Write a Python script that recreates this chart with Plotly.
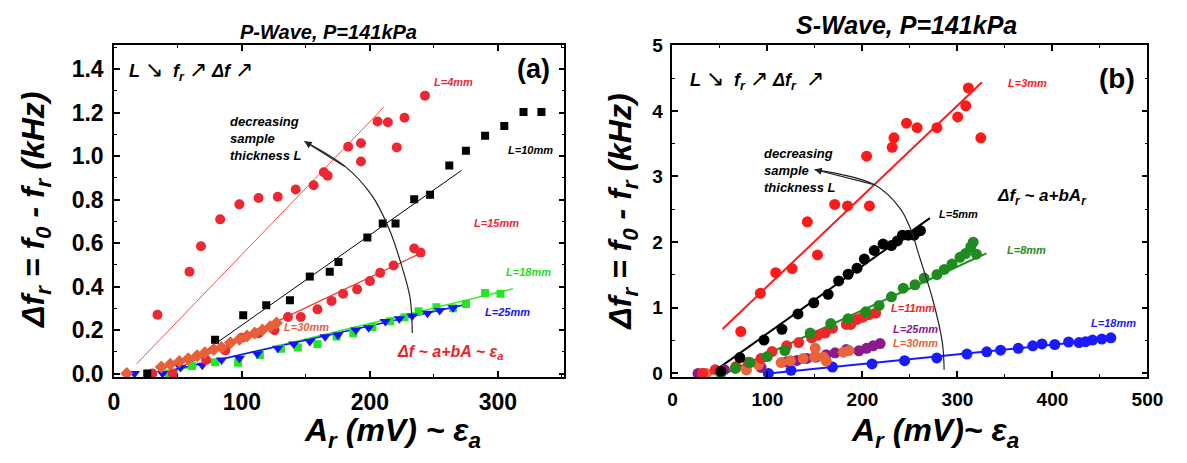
import plotly.graph_objects as go

FONT = "Arial, 'Liberation Sans', sans-serif"

# ---------------- Panel (a): P-Wave ----------------
a_L4_x = [34, 59, 68, 83, 98, 113, 128, 142, 156, 164, 167, 183, 193, 193, 206, 214, 221, 227, 243]
a_L4_y = [0.27, 0.468, 0.585, 0.709, 0.778, 0.807, 0.813, 0.846, 0.866, 0.926, 0.910, 1.043, 1.059, 0.975, 1.159, 1.156, 1.040, 1.176, 1.278]

a_L10_x = [26, 79, 101, 119, 137.5, 153, 168.6, 175.4, 198, 210, 220, 234.6, 247, 262, 275, 290, 305, 320, 334]
a_L10_y = [0.0, 0.155, 0.268, 0.314, 0.337, 0.446, 0.468, 0.513, 0.626, 0.69, 0.69, 0.801, 0.822, 0.957, 1.025, 1.093, 1.138, 1.203, 1.203]

a_L15_x = [30, 46, 72, 87, 100, 113, 125.5, 136, 146, 159, 170, 179, 190, 200, 208, 218.5, 234.6, 239.6]
a_L15_y = [0.0, 0.0, 0.062, 0.106, 0.165, 0.185, 0.199, 0.26, 0.26, 0.295, 0.334, 0.367, 0.387, 0.425, 0.463, 0.497, 0.575, 0.556]

a_L30_x = [10, 37, 44, 51, 58, 65, 71, 78, 84, 91, 98, 104, 110, 116, 122, 127]
a_L30_y = [0.0, 0.03, 0.043, 0.055, 0.068, 0.082, 0.095, 0.11, 0.12, 0.142, 0.158, 0.172, 0.186, 0.2, 0.215, 0.232]

a_L18_x = [43, 61, 79, 97, 114, 130.5, 143.7, 159, 174, 187, 202, 215.8, 227, 238, 252, 265, 275, 290, 302]
a_L18_y = [0.0, 0.035, 0.052, 0.05, 0.085, 0.114, 0.12, 0.135, 0.17, 0.185, 0.214, 0.24, 0.258, 0.286, 0.305, 0.3, 0.32, 0.37, 0.367]

a_L25_x = [16, 38, 52, 69, 84, 98, 112, 128, 140.5, 153, 165, 175, 189, 199, 212, 223, 233, 245, 254.5, 265]
a_L25_y = [0.0, 0.0, 0.028, 0.038, 0.062, 0.07, 0.091, 0.116, 0.136, 0.147, 0.169, 0.177, 0.2, 0.21, 0.239, 0.252, 0.264, 0.277, 0.29, 0.302]

# linear fits: intercept a, slope b, x start, x end
a_fit_L4 = [-0.0636, 0.00611, 17.6, 210.9]
a_fit_L10 = [-0.1915, 0.004144, 53.7, 271.6]
a_fit_L15 = [-0.1155, 0.00279, 45.0, 242.0]
a_fit_L18 = [-0.0558, 0.00143, 39.0, 311.7]
a_fit_L25 = [-0.0431, 0.001313, 42.0, 276.5]

a_arc_x = [148.8, 181.5, 201.9, 214.7, 224.9, 231.4, 233.1]
a_arc_y = [1.068, 0.948, 0.816, 0.669, 0.494, 0.347, 0.186]

# ---------------- Panel (b): S-Wave ----------------
b_L3_x = [72, 92.5, 108.7, 126, 142, 152.7, 170.8, 184.3, 204.4, 207.4, 231.3, 233.2, 246.4, 257.6, 278.4, 300.3, 308.8, 311.5, 324.6]
b_L3_y = [0.639, 1.22, 1.535, 1.598, 2.309, 1.806, 2.575, 2.551, 3.309, 2.551, 3.444, 3.589, 3.812, 3.744, 3.744, 3.908, 4.077, 4.348, 3.589]

b_L5_x = [51, 71, 96.4, 115.3, 132.2, 148.8, 163.9, 175, 185, 194.3, 202, 212.5, 221.7, 230.5, 236.8, 242.1, 248.3, 254.5, 261]
b_L5_y = [0.034, 0.242, 0.508, 0.673, 0.906, 1.075, 1.206, 1.409, 1.511, 1.603, 1.743, 1.874, 1.971, 1.947, 2.019, 2.106, 2.106, 2.106, 2.174]

b_L8_x = [51, 66.3, 81.7, 99.9, 118.4, 145, 166.6, 185, 203.6, 217.5, 230.5, 243, 255.3, 265, 278.4, 286.2, 294.3, 302.7, 308.5, 314, 320, 316.6]
b_L8_y = [0.0, 0.082, 0.165, 0.257, 0.349, 0.615, 0.76, 0.833, 0.939, 1.036, 1.167, 1.298, 1.351, 1.453, 1.506, 1.584, 1.666, 1.768, 1.826, 1.927, 1.816, 2.0]

b_L11_x = [31.6, 45.1, 67, 79.8, 93.3, 104.9, 120.3, 133, 146.5, 153, 160.8, 168.5, 183, 187.7, 194.3, 200.5, 207, 214]
b_L11_y = [0.0, 0.058, 0.107, 0.17, 0.228, 0.334, 0.421, 0.47, 0.542, 0.581, 0.615, 0.688, 0.746, 0.746, 0.823, 0.857, 0.896, 0.92]

b_L25_x = [27, 33, 54.7, 93.3, 120.3, 131, 141.5, 151.1, 161.9, 171.2, 183, 196.2, 204.3, 211.3, 218.6]
b_L25_y = [0.0, 0.0, 0.058, 0.092, 0.179, 0.199, 0.228, 0.247, 0.286, 0.315, 0.363, 0.344, 0.383, 0.421, 0.455]

b_L30_x = [35.5, 66.3, 77.9, 90.6, 114.5, 124.1, 137.6, 149.6, 150.3, 158.8, 161.9, 180, 185.8]
b_L30_y = [0.0, 0.077, 0.053, 0.131, 0.165, 0.194, 0.228, 0.252, 0.383, 0.252, 0.189, 0.324, 0.349]

b_L18_x = [101, 124.9, 168.5, 210.1, 244.4, 278.3, 310, 330.8, 345.4, 364, 379.3, 389, 402.5, 417, 428, 435, 442.2, 452, 461.5]
b_L18_y = [0.0, 0.048, 0.097, 0.145, 0.194, 0.237, 0.295, 0.329, 0.354, 0.383, 0.421, 0.45, 0.441, 0.479, 0.47, 0.484, 0.508, 0.523, 0.542]

b_fit_L3 = [-0.0486, 0.01376, 52.8, 325.8]
b_fit_L5 = [-0.419, 0.01028, 39.3, 271.0]
b_fit_L8 = [-0.369, 0.006655, 48.2, 330.4]
b_fit_L18 = [-0.148, 0.001465, 101.0, 461.5]

b_arc_x = [149.6, 212.8, 239.8, 251.4, 259.0, 274.5, 284.1, 286.0]
b_arc_y = [3.106, 2.874, 2.512, 2.174, 1.826, 1.1, 0.47, 0.058]

fig = go.Figure()


def fit_line(p, color, width, xa, ya):
    a, b, x0, x1 = p
    fig.add_trace(go.Scatter(x=[x0, x1], y=[a + b * x0, a + b * x1], mode="lines",
                             line=dict(color=color, width=width), xaxis=xa, yaxis=ya,
                             hoverinfo="skip"))


def pts(x, y, color, symbol, size, xa, ya):
    fig.add_trace(go.Scatter(x=x, y=y, mode="markers",
                             marker=dict(color=color, symbol=symbol, size=size, line=dict(width=0)),
                             xaxis=xa, yaxis=ya))


# panel a
fit_line(a_fit_L4, "#ff4a4a", 1, "x", "y")
fit_line(a_fit_L10, "#000000", 1, "x", "y")
fit_line(a_fit_L15, "#f03a2a", 1.2, "x", "y")
fit_line(a_fit_L18, "#33ee33", 1.5, "x", "y")
fit_line(a_fit_L25, "#1010ff", 1.5, "x", "y")
pts(a_L18_x, a_L18_y, "#22e622", "square", 8, "x", "y")
pts(a_L25_x, a_L25_y, "#1212ff", "triangle-down", 10, "x", "y")
pts(a_L15_x, a_L15_y, "#ee2833", "circle", 10, "x", "y")
pts(a_L30_x, a_L30_y, "#e8603a", "diamond", 10, "x", "y")
pts(a_L10_x, a_L10_y, "#000000", "square", 8, "x", "y")
pts(a_L4_x, a_L4_y, "#ee2833", "circle", 10, "x", "y")
fig.add_trace(go.Scatter(x=a_arc_x, y=a_arc_y, mode="lines", line=dict(color="#222", width=1.2, shape="spline"),
                         xaxis="x", yaxis="y"))

# panel b
fit_line(b_fit_L3, "#ff1a1a", 2, "x2", "y2")
fit_line(b_fit_L5, "#000000", 2, "x2", "y2")
fit_line(b_fit_L8, "#1e8c1e", 2, "x2", "y2")
fit_line(b_fit_L18, "#1a1aff", 2, "x2", "y2")
pts(b_L18_x, b_L18_y, "#1a1aff", "circle", 11, "x2", "y2")
pts(b_L25_x, b_L25_y, "#8b1a8b", "circle", 11, "x2", "y2")
pts(b_L30_x, b_L30_y, "#e8643a", "circle", 11, "x2", "y2")
pts(b_L11_x, b_L11_y, "#ee2828", "circle", 11, "x2", "y2")
pts(b_L8_x, b_L8_y, "#1e8c1e", "circle", 11, "x2", "y2")
pts(b_L5_x, b_L5_y, "#000000", "circle", 11, "x2", "y2")
pts(b_L3_x, b_L3_y, "#ff1a1a", "circle", 11, "x2", "y2")
fig.add_trace(go.Scatter(x=b_arc_x, y=b_arc_y, mode="lines", line=dict(color="#222", width=1.2, shape="spline"),
                         xaxis="x2", yaxis="y2"))

ann = []


def txt(x, y, s, size, color="#000", xref="x", yref="y", xanchor="left", yanchor="middle", angle=0, align="left"):
    ann.append(dict(x=x, y=y, xref=xref, yref=yref, text=s, showarrow=False,
                    font=dict(family=FONT, size=size, color=color),
                    xanchor=xanchor, yanchor=yanchor, textangle=angle, align=align))


def bi(s):
    return "<b><i>" + s + "</i></b>"


def arr(ch):
    return "<span style='font-size:22px'>" + ch + "</span>"


# arrows at arc ends
ann.append(dict(x=a_arc_x[0], y=a_arc_y[0], ax=a_arc_x[1], ay=a_arc_y[1], xref="x", yref="y",
                axref="x", ayref="y", text="", showarrow=True, arrowhead=2, arrowsize=1.2,
                arrowwidth=1.2, arrowcolor="#222"))
ann.append(dict(x=b_arc_x[0], y=b_arc_y[0], ax=b_arc_x[1], ay=b_arc_y[1], xref="x2", yref="y2",
                axref="x2", ayref="y2", text="", showarrow=True, arrowhead=2, arrowsize=1.2,
                arrowwidth=1.2, arrowcolor="#222"))

# panel a texts
txt(329 / 1187, 1 - 23 / 463, bi("P-Wave, P=141kPa"), 20, xref="paper", yref="paper", xanchor="center")
txt(327.5, 1.402, "<b>(a)</b>", 27, xanchor="center")
txt(10, 1.395, bi("L") + " " + arr("↘") + "  " + bi("f<sub>r</sub>") + " " + arr("↗") + " " + bi("Δf") + " " + arr("↗"), 18)
txt(248.5, 1.34, bi("L=4mm"), 11, "#ee2833")
txt(306, 1.029, bi("L=10mm"), 11, "#000")
txt(279.5, 0.691, bi("L=15mm"), 11, "#ee2833")
txt(304.5, 0.467, bi("L=18mm"), 11, "#22dd22")
txt(288, 0.281, bi("L=25mm"), 11, "#1212ff")
txt(131, 0.215, bi("L=30mm"), 11, "#e8603a")
txt(89, 1.08, bi("decreasing<br>sample<br>thickness L"), 13)
txt(219.3, 0.098, bi("Δf ~ a+bA ~ ε<sub>a</sub>"), 16, "#ee2222")

# panel b texts
txt(918 / 1187, 1 - 16 / 463, bi("S-Wave, P=141kPa"), 25, xref="paper", yref="paper", xanchor="center")
txt(468, 4.49, "<b>(b)</b>", 28, xref="x2", yref="y2", xanchor="center")
txt(16, 4.48, bi("L") + " " + arr("↘") + "  " + bi("f<sub>r</sub>") + " " + arr("↗") + " " + bi("Δf<sub>r</sub>") + "  " + arr("↗"),
    18, xref="x2", yref="y2")
txt(351, 4.43, bi("L=3mm"), 11, "#ff1a1a", xref="x2", yref="y2")
txt(278, 2.425, bi("L=5mm"), 11, "#000", xref="x2", yref="y2")
txt(349.7, 1.884, bi("L=8mm"), 11, "#1e8c1e", xref="x2", yref="y2")
txt(228, 1.0, bi("L=11mm"), 11, "#ee2828", xref="x2", yref="y2")
txt(230, 0.681, bi("L=25mm"), 11, "#8b1a8b", xref="x2", yref="y2")
txt(230, 0.459, bi("L=30mm"), 11, "#e8643a", xref="x2", yref="y2")
txt(438, 0.768, bi("L=18mm"), 11, "#1a1aff", xref="x2", yref="y2")
txt(94, 3.09, bi("decreasing<br>sample<br>thickness L"), 13, xref="x2", yref="y2")
txt(340, 2.69, bi("Δf<sub>r</sub> ~ a+bA<sub>r</sub>"), 17, xref="x2", yref="y2")

# axis titles
ytitle = bi("Δf<sub>r</sub> = f<sub>0</sub> - f<sub>r</sub> (kHz)")
txt(30 / 1187, 1 - 208 / 463, ytitle, 32, xref="paper", yref="paper", xanchor="center", angle=-90)
txt(628 / 1187, 1 - 210 / 463, ytitle, 32, xref="paper", yref="paper", xanchor="center", angle=-90)
txt(394 / 1187, 1 - 441 / 463, bi("A<sub>r</sub> (mV) ~ ε<sub>a</sub>"), 32, xref="paper", yref="paper", xanchor="center")
txt(947 / 1187, 1 - 441 / 463, bi("A<sub>r</sub> (mV)~ ε<sub>a</sub>"), 32, xref="paper", yref="paper", xanchor="center")


def axis(domain, rng, dtick, minor, size, fmt=None, anchor=None):
    d = dict(domain=domain, range=rng, dtick=dtick, tick0=0, showgrid=False, zeroline=False,
             showline=True, linecolor="#000", linewidth=1.5, mirror="allticks",
             ticks="inside", ticklen=6, tickwidth=1.5, tickcolor="#000",
             minor=dict(ticks="inside", ticklen=3, tickwidth=1.2, dtick=minor, tick0=0, tickcolor="#000"),
             tickfont=dict(family=FONT, size=size, color="#000", weight="bold"),
             anchor=anchor, ticklabelstandoff=4)
    if fmt:
        d["tickformat"] = fmt
    return d


ydom = [1 - 382.7 / 463, 1 - 36.7 / 463]
fig.update_layout(
    width=1187, height=463, autosize=False,
    margin=dict(l=0, r=0, t=0, b=0),
    paper_bgcolor="white", plot_bgcolor="white",
    showlegend=False,
    xaxis=axis([110 / 1187, 569 / 1187], [0, 352], 100, 50, 23, anchor="y"),
    yaxis=axis(ydom, [-0.016, 1.51], 0.2, 0.1, 23, fmt=".1f", anchor="x"),
    xaxis2=axis([679 / 1187, 1163 / 1187], [0, 500], 100, 50, 19, anchor="y2"),
    yaxis2=axis(ydom, [-0.054, 5.0], 1, 0.5, 19, anchor="x2"),
    annotations=ann,
)

fig.write_html("out.html", config={"displayModeBar": False},
               post_script="document.body.style.margin='0';document.body.style.overflow='hidden';")
